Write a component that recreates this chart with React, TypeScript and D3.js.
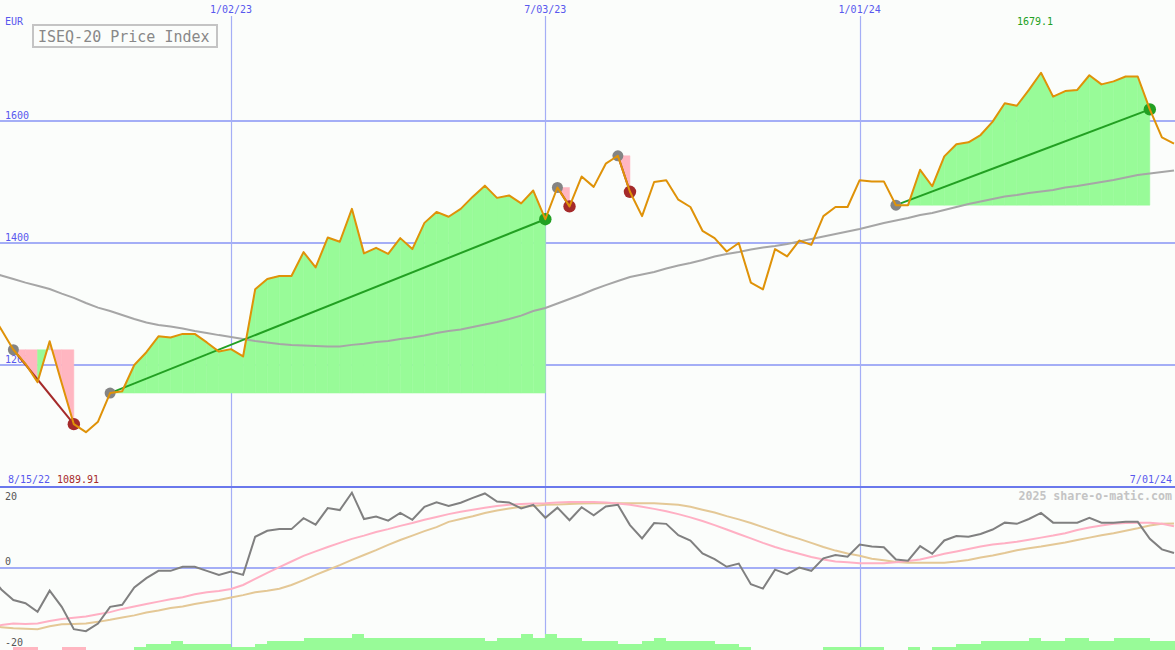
import React from "react";
import * as d3 from "d3";

const W = 1175;
const H = 650;

// Weekly closes, starting 8/15/22
const START_DATE = new Date(Date.UTC(2022, 7, 15));
const price = [
  1292, 1258, 1225, 1202, 1172, 1239, 1170, 1103, 1089.91, 1107,
  1154, 1157, 1200, 1221, 1247, 1245, 1251, 1251, 1237, 1222,
  1226, 1214, 1324, 1341, 1346, 1346, 1385, 1360, 1409, 1402,
  1456, 1383, 1392, 1382, 1408, 1390, 1433, 1451, 1443, 1456,
  1476, 1494, 1474, 1478, 1465, 1486, 1439, 1491, 1460, 1509,
  1492, 1530, 1543, 1484, 1444, 1500, 1503, 1471, 1459, 1420,
  1408, 1386, 1400, 1335, 1324, 1390, 1378, 1404, 1397, 1444,
  1459, 1459, 1503, 1501, 1501, 1462, 1462, 1520, 1493, 1542,
  1562, 1565, 1577, 1599, 1629, 1625, 1651, 1679.1, 1640, 1649,
  1651, 1675, 1660, 1665, 1673, 1673, 1619, 1573, 1563,
];
const movingAvg = [
  1352.5, 1346.7, 1341, 1335, 1330, 1324.6, 1317, 1310, 1301.6, 1294,
  1288.5, 1282, 1275.4, 1269.7, 1265.6, 1263, 1259.8, 1255.7, 1252.5, 1249,
  1246, 1242.6, 1239.3, 1237, 1234.4, 1232.8, 1232, 1231, 1230.3, 1230.3,
  1233, 1235, 1237.7, 1239.3, 1242.6, 1245, 1248.4, 1252.5, 1255.7, 1258.2,
  1262.3, 1266.4, 1270.5, 1275.4, 1281, 1288.5, 1293.4, 1300.8, 1308.2, 1315.6,
  1323.8, 1331, 1337.7, 1344.3, 1348.4, 1352.5, 1358.2, 1363, 1367.2, 1372,
  1378, 1382, 1385.2, 1389.3, 1392.6, 1395, 1398.4, 1402.5, 1406.6, 1410.7,
  1414.8, 1418.9, 1423, 1427.9, 1432.8, 1436.9, 1441, 1445.9, 1449.2, 1454.1,
  1459, 1464, 1468, 1472.1, 1476.2, 1478.7, 1482, 1484.4, 1486.9, 1491,
  1493.4, 1496.7, 1500, 1503.3, 1507.4, 1511.5, 1513.9, 1516.4, 1518.9,
];
const momentum = [
  -1.7, -5.3, -7.9, -8.7, -10.8, -5.6, -9.6, -15.1, -15.6, -13.7,
  -9.6, -9.1, -4.8, -2.5, -0.7, -0.7, 0.3, 0.3, -0.7, -1.7,
  -0.9, -1.7, 7.7, 9.2, 9.6, 9.6, 12.3, 10.7, 14.8, 14.3,
  18.6, 12.1, 12.7, 11.7, 13.6, 11.9, 15.1, 16.2, 15.3, 16.1,
  17.3, 18.4, 16.4, 16.2, 14.7, 15.6, 12.4, 14.9, 11.8, 15.0,
  13.0, 15.2, 15.6, 10.6, 7.3, 11.1, 10.9, 8.1, 6.8, 3.6,
  2.2, 0.3, 1.1, -4.0, -5.1, -0.4, -1.5, 0.1, -0.7, 2.4,
  3.2, 2.8, 5.8, 5.3, 5.1, 2.1, 1.8, 5.4, 3.5, 6.8,
  7.9, 7.7, 8.4, 9.5, 11.2, 10.9, 12.1, 13.6, 11.2, 11.2,
  11.2, 12.4, 11.2, 11.2, 11.4, 11.4, 7.2, 4.6, 3.7,
];
const fastAvg = [
  -14.2, -14.1, -13.7, -13.8, -13.7, -13.1, -12.6, -12.3, -12.0, -11.4,
  -10.9, -10.1, -9.5, -8.9, -8.3, -7.7, -7.2, -6.5, -6.0, -5.7,
  -5.2, -4.2, -2.7, -1.2, 0.2, 1.6, 3.0, 4.1, 5.2, 6.2,
  7.2, 8.0, 8.9, 9.6, 10.4, 11.1, 11.9, 12.6, 13.3, 13.9,
  14.4, 14.9, 15.3, 15.6, 15.8, 15.9, 16.0, 16.2, 16.3, 16.3,
  16.3, 16.2, 15.9, 15.6, 15.1, 14.6, 14.0, 13.3, 12.5, 11.6,
  10.6, 9.5, 8.4, 7.3, 6.2, 5.2, 4.3, 3.5, 2.7, 2.1,
  1.6, 1.4, 1.2, 1.2, 1.2, 1.4, 1.7, 2.1, 2.8, 3.5,
  4.1, 4.7, 5.3, 5.8, 6.1, 6.5, 7.0, 7.5, 8.0, 8.6,
  9.4, 10.0, 10.5, 10.9, 11.1, 11.2, 11.2, 10.9, 10.3,
];
const slowAvg = [
  -14.3, -14.6, -14.9, -15.0, -15.1, -14.4, -13.9, -13.8, -13.7, -13.3,
  -12.8, -12.2, -11.7, -11.0, -10.5, -9.9, -9.5, -8.9, -8.4, -7.9,
  -7.3, -6.7, -6.0, -5.6, -5.1, -4.2, -3.0, -1.7, -0.5, 0.7,
  2.0, 3.2, 4.4, 5.7, 6.9, 8.0, 9.1, 10.1, 11.4, 12.1,
  12.8, 13.6, 14.2, 14.7, 15.1, 15.3, 15.6, 15.7, 15.8, 15.9,
  16.0, 16.0, 16.0, 16.0, 16.0, 16.0, 15.8, 15.6, 15.1, 14.4,
  13.7, 12.8, 12.0, 11.1, 10.1, 9.1, 8.1, 7.2, 6.2, 5.2,
  4.3, 3.6, 3.0, 2.3, 1.9, 1.5, 1.3, 1.3, 1.3, 1.3,
  1.6, 2.0, 2.6, 3.1, 3.7, 4.4, 4.9, 5.3, 5.8, 6.3,
  6.9, 7.5, 8.1, 8.6, 9.2, 9.8, 10.5, 10.9, 11.0,
];
const histogram = [
  0, 0, -1, -1, 0, 0, -1, -1, 0, 0,
  0, 0, 1, 2, 2, 3, 2, 2, 2, 2,
  1, 1, 2, 3, 3, 3, 4, 4, 4, 4,
  5, 4, 4, 4, 4, 4, 4, 4, 4, 4,
  4, 3, 4, 4, 5, 4, 5, 4, 4, 3,
  3, 3, 2, 2, 3, 4, 3, 3, 3, 3,
  2, 2, 1, 0, 0, 0, 0, 0, 0, 1,
  1, 1, 1, 1, 0, 0, 1, 0, 1, 1,
  2, 2, 3, 3, 3, 3, 4, 3, 3, 4,
  4, 3, 3, 4, 4, 4, 3, 3, 3,
];
// trend segments: start index, end index, direction
const trends = [
  { s: 2, e: 7, dir: "down" },
  { s: 10, e: 46, dir: "up" },
  { s: 47, e: 48, dir: "down" },
  { s: 52, e: 53, dir: "down" },
  { s: 75, e: 96, dir: "up" },
];
const gridDates = [
  new Date(Date.UTC(2023, 0, 2)),
  new Date(Date.UTC(2023, 6, 3)),
  new Date(Date.UTC(2024, 0, 1)),
];
const priceTicks = [1200, 1400, 1600];
const oscTicks = [20, 0, -20];

const dates = price.map((_, i) => d3.utcDay.offset(START_DATE, i * 7));

const FONT = "'DejaVu Sans Mono', monospace";
const BLUE = "#5858ee";
const GRID = "#a4aef6";
const ORANGE = "#df9208";
const GREEN_FILL = "#98fb98";
const PINK_FILL = "#ffb6c1";
const UP = "#22a022";
const DOWN = "#a52a2a";

export default function App() {
  const x = d3
    .scaleUtc()
    .domain([new Date(Date.UTC(2023, 0, 2)), new Date(Date.UTC(2024, 6, 1))])
    .range([231, 1174]);
  const y = d3.scaleLinear().domain([1200, 1600]).range([365, 121]);
  const yo = d3.scaleLinear().domain([-20, 20]).range([649, 487]);
  const yb = d3.scaleLinear().domain([0, 5]).range([650.7, 634.35]);
  const fmt = d3.utcFormat("%-m/%d/%y");

  const px = (i: number) => x(dates[i]);
  const step = px(1) - px(0);

  const priceLine = d3
    .line<number>()
    .x((_, i) => px(i))
    .y((d) => y(d));
  const oscLine = d3
    .line<number>()
    .x((_, i) => px(i))
    .y((d) => yo(d));

  const maxIdx = d3.maxIndex(price);
  const minIdx = d3.minIndex(price);

  const fills: JSX.Element[] = [];
  trends.forEach((t, ti) => {
    const level = y(price[t.s]);
    for (let k = t.s; k < t.e; k++) {
      const x0 = px(k);
      const x1 = px(k + 1);
      const pts = [
        [x0, level],
        [x0, y(price[k])],
        [x1, y(price[k + 1])],
        [x1, level],
      ];
      const color = price[k + 1] >= price[t.s] ? GREEN_FILL : PINK_FILL;
      fills.push(
        <polygon
          key={`f${ti}-${k}`}
          points={pts.map((p) => p.join(",")).join(" ")}
          fill={color}
          stroke={color}
          strokeWidth={0.5}
        />
      );
    }
  });

  return (
    <svg
      width={W}
      height={H}
      style={{ position: "absolute", left: 0, top: 0, display: "block" }}
      fontFamily={FONT}
    >
      <defs>
        <clipPath id="lowerClip">
          <rect x={0} y={488} width={W} height={H - 488} />
        </clipPath>
      </defs>
      <rect x={0} y={0} width={W} height={H} fill="#fbfdfb" />

      {/* grid */}
      {gridDates.map((d, i) => (
        <line
          key={`vg${i}`}
          x1={Math.round(x(d)) + 0.5}
          x2={Math.round(x(d)) + 0.5}
          y1={16}
          y2={H}
          stroke={GRID}
          strokeWidth={1.2}
        />
      ))}
      {priceTicks.map((v) => (
        <line
          key={`hg${v}`}
          x1={0}
          x2={W}
          y1={y(v)}
          y2={y(v)}
          stroke={GRID}
          strokeWidth={2}
          shapeRendering="crispEdges"
        />
      ))}
      <line x1={0} x2={W} y1={yo(0)} y2={yo(0)} stroke={GRID} strokeWidth={2} shapeRendering="crispEdges" />
      <line x1={0} x2={W} y1={487} y2={487} stroke="#6a78ec" strokeWidth={2} shapeRendering="crispEdges" />

      {/* price axis labels */}
      <text x={5} y={25} fontSize={10} fill={BLUE}>EUR</text>
      {priceTicks.map((v) => (
        <text key={`pl${v}`} x={5} y={y(v) - 2} fontSize={10} fill={BLUE}>
          {v}
        </text>
      ))}

      {/* trend fills */}
      {fills}

      {/* moving average */}
      <path d={priceLine(movingAvg) || ""} fill="none" stroke="#a6a6a6" strokeWidth={2} />

      {/* trend lines */}
      {trends.map((t, i) => (
        <line
          key={`tl${i}`}
          x1={px(t.s)}
          y1={y(price[t.s])}
          x2={px(t.e)}
          y2={y(price[t.e])}
          stroke={t.dir === "up" ? UP : DOWN}
          strokeWidth={2}
        />
      ))}
      {trends.map((t, i) => (
        <g key={`td${i}`}>
          <circle cx={px(t.s)} cy={y(price[t.s])} r={5.5} fill="#848484" />
          <circle cx={px(t.e)} cy={y(price[t.e])} r={6.2} fill={t.dir === "up" ? UP : DOWN} />
        </g>
      ))}

      {/* price line */}
      <path d={priceLine(price) || ""} fill="none" stroke={ORANGE} strokeWidth={2} strokeLinejoin="round" />

      {/* lower panel */}
      <g clipPath="url(#lowerClip)">
        {histogram.map((v, i) =>
          v === 0 ? null : (
            <rect
              key={`b${i}`}
              x={px(i)}
              width={step}
              y={yb(Math.abs(v))}
              height={yb(0) - yb(Math.abs(v))}
              fill={v > 0 ? GREEN_FILL : PINK_FILL}
              shapeRendering="crispEdges"
            />
          )
        )}
        <path d={oscLine(slowAvg) || ""} fill="none" stroke="#e4c896" strokeWidth={2} />
        <path d={oscLine(fastAvg) || ""} fill="none" stroke="#ffb0c4" strokeWidth={2} />
        <path d={oscLine(momentum) || ""} fill="none" stroke="#808080" strokeWidth={2} />
      </g>

      {/* texts */}
      {gridDates.map((d, i) => (
        <text key={`dl${i}`} x={x(d)} y={13} fontSize={10} fill={BLUE} textAnchor="middle">
          {fmt(d)}
        </text>
      ))}
      <rect x={33} y={25} width={184} height={22} fill="#fbfdfb" stroke="#c4c4c4" strokeWidth={2} />
      <text x={38} y={41.5} fontSize={15} fill="#888888">
        ISEQ-20 Price Index
      </text>
      <text x={px(maxIdx) - 6} y={25} fontSize={10} fill={UP} textAnchor="middle">
        {price[maxIdx]}
      </text>
      <text x={8} y={483} fontSize={10} fill={BLUE}>
        {fmt(dates[0])}
      </text>
      <text x={57} y={483} fontSize={10} fill={DOWN}>
        {price[minIdx].toFixed(2)}
      </text>
      <text x={1172} y={483} fontSize={10} fill={BLUE} textAnchor="end">
        {fmt(dates[dates.length - 1])}
      </text>
      <text x={1172} y={500} fontSize={11.6} fontWeight="bold" fill="#c4c4c4" textAnchor="end">
        2025 share-o-matic.com
      </text>
      {oscTicks.map((v) => (
        <text
          key={`ol${v}`}
          x={5}
          y={v === 20 ? 500 : yo(v) - 3}
          fontSize={10}
          fill="#555555"
        >
          {v}
        </text>
      ))}
    </svg>
  );
}
